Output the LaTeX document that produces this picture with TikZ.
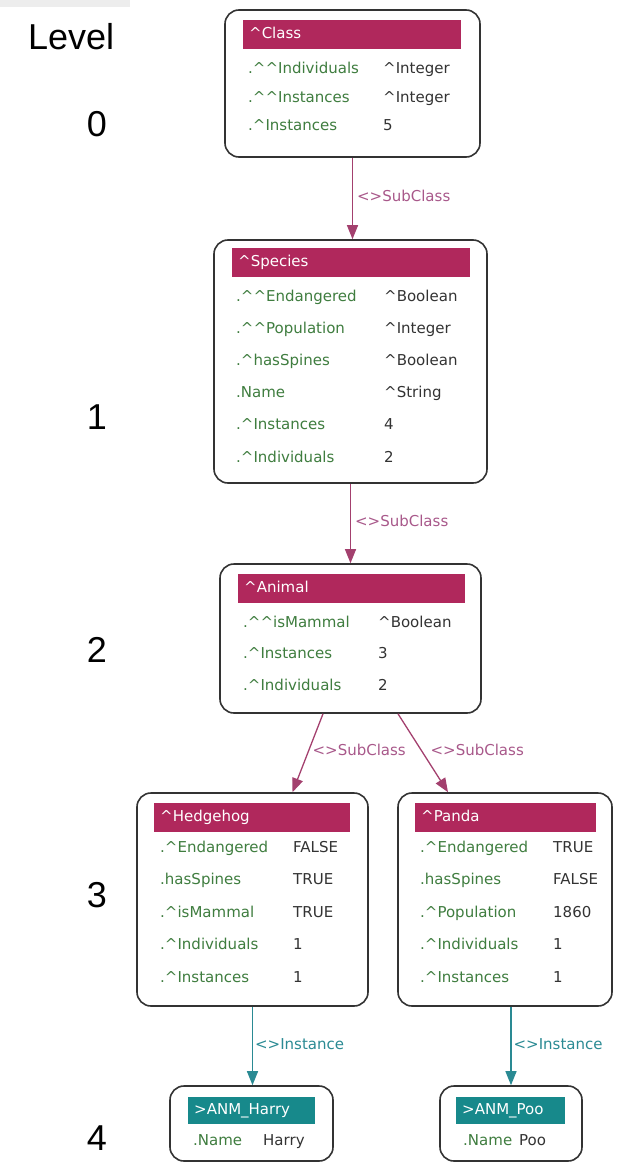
\documentclass[tikz,border=0pt]{standalone}
\usepackage{fontspec}
\setmainfont{DejaVu Sans}
\newfontfamily\levelfont{Liberation Sans}
\usetikzlibrary{arrows.meta,positioning}
\definecolor{classfill}{HTML}{B0285C}
\definecolor{instfill}{HTML}{17898B}
\definecolor{fieldname}{HTML}{3F7D3F}
\definecolor{fieldval}{HTML}{333333}
\definecolor{subclass}{HTML}{A3406E}
\definecolor{sublabel}{HTML}{A8588A}
\definecolor{instance}{HTML}{2A8A93}
\definecolor{strip}{HTML}{EDEDED}
\newcommand{\crt}{\textasciicircum}
\newcommand{\rowfont}{\fontsize{15}{18}\selectfont}

\tikzset{
  objbox/.style={draw=black!80, line width=1.6pt, rounded corners=14pt, fill=white},
  headbar/.style={anchor=north west, inner xsep=6pt, inner ysep=0pt, minimum height=29pt,
    text height=11pt, text depth=3pt, text=white, font=\rowfont, align=left},
  clshead/.style={headbar, fill=classfill},
  objhead/.style={headbar, fill=instfill, minimum height=27pt},
  fname/.style={anchor=west, inner sep=0pt, text height=11pt, text depth=3pt,
    text=fieldname, font=\rowfont},
  fval/.style={fname, text=fieldval},
  levelnum/.style={font=\levelfont\fontsize{36}{40}\selectfont, inner sep=0pt},
  subarrow/.style={draw=subclass, line width=1.3pt, -{Triangle[length=14pt,width=11pt]}},
  instarrow/.style={draw=instance, line width=1.3pt, -{Triangle[length=14pt,width=11pt]}},
  edgelabel/.style={anchor=west, inner sep=0pt, text=sublabel, font=\rowfont},
  instlabel/.style={edgelabel, text=instance},
}

\begin{document}
\begin{tikzpicture}[x=1pt,y=-1pt]
  \useasboundingbox (0,0) rectangle (628,1164);
  \fill[strip] (0,0) rectangle (130,7);

  % level column
  \node[levelnum, anchor=base west] (levelT) at (28,50) {Level};
  \foreach \d/\y in {0/124,1/417,2/650,3/895,4/1138}
    \node[levelnum] (lev\d) at (97,\y) {\d};

  % boxes
  \node[objbox, minimum width=255pt, minimum height=147pt] (class) at (352.5,83.5) {};
  \node[objbox, minimum width=273pt, minimum height=243pt] (species) at (350.5,361.5) {};
  \node[objbox, minimum width=261pt, minimum height=149pt] (animal) at (350.5,638.5) {};
  \node[objbox, minimum width=231pt, minimum height=213pt] (hedgehog) at (252.5,899.5) {};
  \node[objbox, minimum width=214pt, minimum height=213pt] (panda) at (505,899.5) {};
  \node[objbox, minimum width=163pt, minimum height=75pt] (harry) at (251.5,1123.5) {};
  \node[objbox, minimum width=142pt, minimum height=75pt] (poo) at (511,1123.5) {};

  % header bars
  \node[clshead, text width=206pt] (classH) at (243,20) {\crt Class};
  \node[clshead, text width=226pt] (speciesH) at (232,248) {\crt Species};
  \node[clshead, text width=215pt] (animalH) at (238,574) {\crt Animal};
  \node[clshead, text width=184pt] (hedgehogH) at (154,803) {\crt Hedgehog};
  \node[clshead, text width=169pt] (pandaH) at (415,803) {\crt Panda};
  \node[objhead, text width=115pt] (harryH) at (188,1097) {>ANM\_Harry};
  \node[objhead, text width=97pt] (pooH) at (456,1097) {>ANM\_Poo};

  % fields
  \foreach \n/\v [count=\i] in {{.\crt\crt Individuals}/{\crt Integer},
      {.\crt\crt Instances}/{\crt Integer}, {.\crt Instances}/5} {
    \pgfmathsetmacro{\y}{70+(\i-1)*28}
    \node[fname] (classN\i) at (248,\y) {\n};
    \node[fval] (classV\i) at (383,\y) {\v};
  }
  \foreach \n/\v [count=\i] in {{.\crt\crt Endangered}/{\crt Boolean},
      {.\crt\crt Population}/{\crt Integer}, {.\crt hasSpines}/{\crt Boolean},
      {.Name}/{\crt String}, {.\crt Instances}/4, {.\crt Individuals}/2} {
    \pgfmathsetmacro{\y}{297+(\i-1)*32.2}
    \node[fname] (speciesN\i) at (236,\y) {\n};
    \node[fval] (speciesV\i) at (384,\y) {\v};
  }
  \foreach \n/\v [count=\i] in {{.\crt\crt isMammal}/{\crt Boolean},
      {.\crt Instances}/3, {.\crt Individuals}/2} {
    \pgfmathsetmacro{\y}{623+(\i-1)*31.5}
    \node[fname] (animalN\i) at (243,\y) {\n};
    \node[fval] (animalV\i) at (378,\y) {\v};
  }
  \foreach \n/\v [count=\i] in {{.\crt Endangered}/FALSE, {.hasSpines}/TRUE,
      {.\crt isMammal}/TRUE, {.\crt Individuals}/1, {.\crt Instances}/1} {
    \pgfmathsetmacro{\y}{848+(\i-1)*32.5}
    \node[fname] (hedgehogN\i) at (160,\y) {\n};
    \node[fval] (hedgehogV\i) at (293,\y) {\v};
  }
  \foreach \n/\v [count=\i] in {{.\crt Endangered}/TRUE, {.hasSpines}/FALSE,
      {.\crt Population}/1860, {.\crt Individuals}/1, {.\crt Instances}/1} {
    \pgfmathsetmacro{\y}{848+(\i-1)*32.5}
    \node[fname] (pandaN\i) at (420,\y) {\n};
    \node[fval] (pandaV\i) at (553,\y) {\v};
  }
  \node[fname] (harryN1) at (193,1141) {.Name};
  \node[fval] (harryV1) at (263,1141) {Harry};
  \node[fname] (pooN1) at (463,1141) {.Name};
  \node[fval] (pooV1) at (519,1141) {Poo};

  % connectors
  \draw[subarrow] (class.south) -- (class.south |- species.north)
    node[edgelabel, pos=0.47, xshift=4pt] (sub1) {<>SubClass};
  \draw[subarrow] (species.south) -- (species.south |- animal.north)
    node[edgelabel, pos=0.47, xshift=4pt] (sub2) {<>SubClass};
  \draw[subarrow] ([xshift=-27.5pt]animal.south) -- ([xshift=40pt]hedgehog.north)
    node[edgelabel, pos=0.46, xshift=3pt] (sub3) {<>SubClass};
  \draw[subarrow] ([xshift=47.5pt]animal.south) -- ([xshift=-57pt]panda.north)
    node[edgelabel, pos=0.46, xshift=9pt] (sub4) {<>SubClass};
  \draw[instarrow] (hedgehog.south) -- (hedgehog.south |- harry.north)
    node[instlabel, pos=0.47, xshift=2pt] (inst1) {<>Instance};
  \draw[instarrow] (poo.north |- panda.south) -- (poo.north)
    node[instlabel, pos=0.47, xshift=2pt] (inst2) {<>Instance};
\end{tikzpicture}
\end{document}
